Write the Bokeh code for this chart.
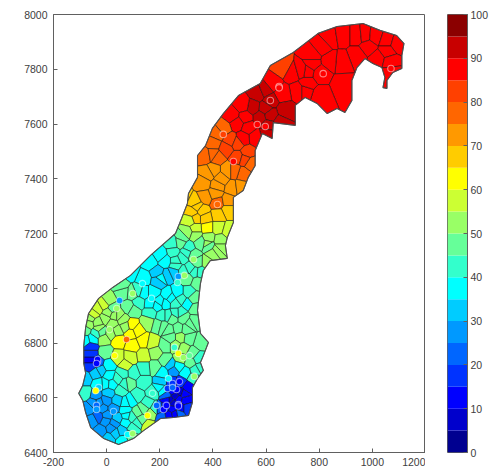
import numpy as np
from bokeh.plotting import figure
from bokeh.layouts import row
from bokeh.models import ColumnDataSource, LinearColorMapper, FixedTicker, Range1d
from bokeh.embed import file_html
from bokeh.resources import INLINE

x_ticks = [-200, 0, 200, 400, 600, 800, 1000, 1200]
y_ticks = [6400, 6600, 6800, 7000, 7200, 7400, 7600, 7800, 8000]
bar_ticks = [0, 10, 20, 30, 40, 50, 60, 70, 80, 90, 100]
palette = ["#000090", "#0000cc", "#0000ff", "#0033ff", "#0066ff", "#0099ff", "#00ccff", "#00ffff", "#33ffcc", "#66ff99",
           "#99ff66", "#ccff33", "#ffff00", "#ffcc00", "#ff9900", "#ff6600", "#ff4000", "#ff0000", "#c80000", "#8b0000"]

outline_x = [45, -11, -60, -79, -90, -105, -90, -79, -86, -86, -79, -68, -30, 23, 90, 165, 259, 282, 304, 308, 342, 342, 372, 398, 439, 496, 578, 616, 702, 796, 867, 965, 1029, 1092, 1119, 1111, 1111, 1077, 1055, 1055, 1040, 1047, 1036, 1002, 972, 942, 923, 923, 897, 867, 830, 792, 747, 710, 710, 627, 623, 586, 559, 559, 533, 514, 477, 477, 454, 447, 454, 390, 364, 353, 342, 353, 383, 364, 353, 364, 342, 323, 323, 308, 252, 203, 139, 101]
outline_y = [6429, 6451, 6491, 6546, 6590, 6616, 6645, 6689, 6725, 6791, 6857, 6908, 6963, 7003, 7047, 7120, 7200, 7255, 7310, 7346, 7405, 7485, 7521, 7584, 7638, 7704, 7748, 7814, 7861, 7931, 7956, 7967, 7942, 7923, 7894, 7850, 7803, 7788, 7759, 7730, 7733, 7770, 7806, 7821, 7839, 7806, 7759, 7686, 7642, 7657, 7638, 7675, 7697, 7668, 7595, 7605, 7547, 7565, 7503, 7448, 7405, 7357, 7332, 7240, 7185, 7156, 7109, 7101, 7065, 7017, 6919, 6835, 6802, 6754, 6729, 6700, 6670, 6637, 6583, 6535, 6528, 6524, 6480, 6451]

north_x = [841, 890, 942, 972, 1010, 1055, 1092, 1055, 1021, 1066, 1070, 984, 942, 886, 841, 811, 773, 803, 890, 803, 755, 747, 664, 627, 698, 736, 721, 755, 773, 661, 571, 597, 616, 552, 672, 597, 578, 616, 653, 608, 604, 511, 473, 522, 492, 533, 559, 514]
north_y = [7912, 7920, 7920, 7923, 7920, 7905, 7894, 7865, 7839, 7828, 7788, 7883, 7850, 7828, 7832, 7883, 7850, 7784, 7741, 7704, 7792, 7722, 7803, 7748, 7784, 7795, 7722, 7748, 7821, 7711, 7711, 7722, 7686, 7660, 7649, 7657, 7624, 7631, 7605, 7595, 7565, 7668, 7631, 7624, 7602, 7587, 7551, 7547]
north_val = [87, 87, 87, 87, 87, 87, 87, 87, 87, 87, 87, 87, 87, 87, 87, 87, 87, 87, 87, 87, 87, 87, 82, 87, 87, 87, 87, 87, 87, 87, 92, 92, 92, 92, 92, 92, 92, 92, 92, 92, 92, 87, 87, 87, 87, 87, 87, 87]

mid_x = [439, 466, 417, 492, 529, 492, 372, 402, 417, 454, 402, 514, 541, 383, 364, 417, 473, 503, 285, 334, 323, 360, 417, 458, 372, 409, 458, 420, 372, 334, 315, 379, 420, 458, 334, 304, 285, 334, 383, 428, 383, 428, 248, 308]
mid_y = [7584, 7540, 7565, 7529, 7496, 7478, 7485, 7529, 7478, 7430, 7430, 7419, 7456, 7419, 7383, 7375, 7364, 7368, 7339, 7313, 7277, 7284, 7313, 7320, 7332, 7346, 7284, 7266, 7255, 7255, 7248, 7222, 7222, 7211, 7218, 7204, 7185, 7193, 7182, 7174, 7156, 7149, 7163, 7149]
mid_val = [78, 82, 78, 82, 82, 82, 78, 78, 78, 73, 73, 78, 78, 73, 73, 73, 73, 73, 68, 68, 68, 68, 78, 73, 73, 73, 68, 68, 68, 68, 57, 62, 57, 57, 57, 52, 47, 52, 52, 52, 47, 52, 42, 42]

central_x = [278, 379, 417, 353, 327, 379, 285, 252, 203, 165, 259, 315, 353, 191, 229, 252, 203, 139, 120, 90, 304, 342, 308, 267, 229, 176, 139, 221, 165, 120, 304, 98, 60, 327, 334, 83, 53]
central_y = [7167, 7163, 7138, 7167, 7120, 7094, 7112, 7131, 7120, 7094, 7083, 7072, 7058, 7058, 7047, 7058, 7036, 7036, 6990, 7058, 7036, 7021, 6984, 6984, 6974, 6984, 6984, 6944, 6944, 6948, 6944, 6981, 6984, 6963, 6926, 6930, 7010]
central_val = [47, 52, 52, 47, 47, 52, 42, 42, 38, 37, 42, 42, 42, 32, 32, 32, 37, 37, 42, 37, 47, 47, 42, 37, 37, 37, 37, 37, 37, 42, 37, 47, 47, 47, 47, 47, 47]

west_x = [8, -34, 23, -60, -4, 45, 101, 165, 191, -79, -30, 23, 154, 195, 90, 45, 98, 139, 116, 173, -11, -53, -79, -4, -60, 41, 90, 71, 139, 184, 184, 139, 8, -23, -60, -60, -60, -34, 95]
west_y = [6955, 6926, 6926, 6890, 6890, 6900, 6919, 6911, 6937, 6846, 6853, 6871, 6875, 6864, 6835, 6809, 6791, 6809, 6846, 6802, 6816, 6816, 6809, 6765, 6784, 6747, 6747, 6718, 6754, 6765, 6711, 6707, 6718, 6700, 6736, 6762, 6718, 6729, 6865]
west_val = [52, 57, 47, 52, 52, 52, 47, 42, 37, 47, 52, 52, 52, 47, 62, 62, 62, 62, 62, 57, 52, 37, 37, 47, 17, 57, 57, 57, 57, 52, 47, 42, 37, 32, 12, 17, 17, 22, 62]

east_x = [259, 210, 248, 278, 315, 270, 353, 308, 323, 345, 278, 233, 221, 259, 289, 278, 221, 315, 353, 210, 252, 297, 327, 334, 203, 214, 248, 278, 304, 248, 278, 240, 270, 297, 221, 195, 248, 278, 233, 304, 270]
east_y = [6944, 6900, 6890, 6911, 6871, 6853, 6802, 6816, 6762, 6743, 6820, 6846, 6791, 6791, 6780, 6743, 6736, 6729, 6711, 6692, 6700, 6692, 6674, 6700, 6656, 6626, 6656, 6656, 6637, 6626, 6619, 6590, 6597, 6590, 6564, 6561, 6561, 6564, 6535, 6564, 6542]
east_val = [42, 42, 47, 42, 47, 47, 47, 47, 47, 42, 52, 47, 47, 52, 52, 52, 47, 47, 42, 37, 27, 37, 42, 42, 32, 37, 17, 17, 12, 12, 7, 7, 12, 12, 17, 22, 12, 12, 12, 17, 22]

south_x = [173, 139, 83, 101, 41, -4, -79, -79, -41, 8, 53, 71, 116, 154, 184, 165, 154, 116, 116, 90, 60, 8, 34, -23, -53, -4, 41, 71, -68, -15, 26, 71]
south_y = [6619, 6656, 6652, 6692, 6670, 6652, 6670, 6616, 6608, 6616, 6626, 6583, 6608, 6579, 6561, 6542, 6499, 6546, 6510, 6462, 6444, 6451, 6473, 6480, 6517, 6517, 6524, 6510, 6561, 6561, 6561, 6553]
south_val = [42, 42, 47, 42, 42, 37, 32, 42, 27, 32, 42, 37, 42, 42, 42, 52, 57, 47, 42, 47, 37, 32, 32, 27, 27, 27, 32, 37, 27, 27, 27, 37]

fine_x = [-10, -50, -65, -35, -20, 5, 30, 60, 70, 40, 15, -40, -40, 10, 60, 20, 70, -30, -30, 0, 40, 90, -50, -30, 20, 0, 30, 55, 75, 95, 100, 130, 140, 270, 240, 200, 225, 260, 290, 250, 230, 260, 210, 300, 340, 400, 260, 220, 330, 290, 195, 400, 450, 520, 480, 430, 340, 240, 280, 200, 260, 230, 290, 330, 210, 240, 300]
fine_y = [6940, 6905, 6870, 6875, 6840, 6910, 6900, 6885, 6860, 6845, 6835, 6835, 6690, 6680, 6690, 6650, 6650, 6650, 6580, 6590, 6590, 6590, 6580, 6530, 6490, 6535, 6505, 6480, 6535, 6530, 6490, 6520, 6560, 6715, 6720, 6640, 6610, 6605, 6615, 6580, 6590, 6540, 6530, 7130, 7095, 7125, 7100, 7100, 7060, 7060, 7025, 7490, 7510, 7470, 7430, 7400, 7300, 6965, 6960, 6950, 6910, 6900, 6890, 6880, 6860, 6820, 6850]
fine_val = [57, 57, 52, 52, 47, 52, 52, 52, 52, 52, 52, 42, 32, 37, 42, 37, 42, 37, 27, 27, 32, 37, 27, 22, 27, 27, 27, 32, 37, 42, 42, 47, 47, 37, 32, 37, 22, 7, 12, 7, 12, 12, 22, 42, 47, 52, 42, 38, 42, 42, 32, 78, 82, 82, 78, 73, 68, 37, 42, 37, 42, 42, 47, 47, 47, 47, 47]

station_x = [649, 649, 616, 815, 1070, 567, 597, 439, 477, 417, 327, 270, 267, 293, 135, 98, 169, 49, 38, 11, 75, 30, 255, 270, 289, 312, -34, -34, -38, -30, -41, -38, -38, 26, 173, 154, 188, 214, 225, 270, 270, 330, 233, 248, 274, 229, 263, 248, 79, 98]
station_y = [7737, 7732, 7686, 7784, 7803, 7598, 7591, 7562, 7463, 7306, 7105, 7043, 7021, 7047, 7017, 6981, 6963, 6955, 6926, 6849, 6813, 6754, 6784, 6762, 6747, 6754, 6732, 6740, 6725, 6637, 6626, 6572, 6557, 6550, 6616, 6535, 6572, 6557, 6572, 6575, 6570, 6678, 6670, 6652, 6659, 6634, 6630, 6637, 6466, 6469]
station_val = [87, 87, 92, 87, 87, 87, 87, 82, 87, 78, 52, 27, 42, 52, 37, 52, 37, 27, 52, 52, 77, 62, 42, 62, 52, 47, 12, 12, 12, 32, 62, 20, 27, 30, 42, 62, 20, 15, 15, 12, 12, 52, 37, 17, 12, 17, 12, 22, 35, 50]

seed_x = np.array(north_x + mid_x + central_x + west_x + east_x + south_x + fine_x, float)
seed_y = np.array(north_y + mid_y + central_y + west_y + east_y + south_y + fine_y, float)
seed_val = north_val + mid_val + central_val + west_val + east_val + south_val + fine_val


def clip_pieces(poly, mx, my, nx, ny):
    """Half-plane clip of a simple polygon, returning separate pieces with no bridges."""
    d = (poly[:, 0] - mx) * nx + (poly[:, 1] - my) * ny
    if np.all(d <= 0):
        return [poly]
    if np.all(d >= 0):
        return []
    n = len(poly)
    start = next(i for i in range(n) if d[i] > 0)
    chains, cur = [], None
    for s in range(n):
        i = (start + s) % n
        j = (i + 1) % n
        if cur is not None and d[i] <= 0:
            cur.append(poly[i])
        if (d[i] <= 0) != (d[j] <= 0):
            t = d[i] / (d[i] - d[j])
            pt = poly[i] + t * (poly[j] - poly[i])
            if d[j] <= 0:
                cur = [pt]
            else:
                cur.append(pt)
                chains.append(cur)
                cur = None
    dirx, diry = -ny, nx
    ends = []
    for c, ch in enumerate(chains):
        ends.append((ch[0][0] * dirx + ch[0][1] * diry, c, "in"))
        ends.append((ch[-1][0] * dirx + ch[-1][1] * diry, c, "out"))
    ends.sort(key=lambda e: e[0])
    nxt = {}
    for a, b in zip(ends[0::2], ends[1::2]):
        if a[2] == "out":
            nxt[a[1]] = b[1]
        else:
            nxt[b[1]] = a[1]
    pieces, seen = [], set()
    for c in range(len(chains)):
        if c in seen:
            continue
        pts, k = [], c
        while k not in seen:
            seen.add(k)
            pts.extend(chains[k])
            k = nxt.get(k, c)
        if len(pts) >= 3:
            pieces.append(np.array(pts))
    return pieces


base = np.column_stack([outline_x, outline_y]).astype(float)
cell_x, cell_y, cell_v = [], [], []
for i in range(len(seed_x)):
    pieces = [base]
    order = np.argsort((seed_x - seed_x[i]) ** 2 + (seed_y - seed_y[i]) ** 2)
    for k in order[1:]:
        mx, my = (seed_x[i] + seed_x[k]) / 2, (seed_y[i] + seed_y[k]) / 2
        nx, ny = seed_x[k] - seed_x[i], seed_y[k] - seed_y[i]
        if nx == 0 and ny == 0:
            continue
        new = []
        for pc in pieces:
            new.extend(clip_pieces(pc, mx, my, nx, ny))
        pieces = new
        if not pieces:
            break
    for pc in pieces:
        cell_x.append(pc[:, 0].tolist())
        cell_y.append(pc[:, 1].tolist())
        cell_v.append(seed_val[i])

mapper = LinearColorMapper(palette=palette, low=0, high=100)
GREY = "#606060"
TXT = "#404040"


def style_axis(ax, fs="10.5px"):
    ax.axis_line_color = GREY
    ax.major_tick_line_color = GREY
    ax.major_tick_in = 4
    ax.major_tick_out = 0
    ax.minor_tick_line_color = None
    ax.major_label_text_font = "Liberation Sans"
    ax.major_label_text_font_size = fs
    ax.major_label_text_color = TXT


p = figure(frame_width=372, frame_height=438, x_range=Range1d(-200, 1200), y_range=Range1d(6400, 8000),
           toolbar_location=None, output_backend="svg",
           min_border_left=53, min_border_top=14, min_border_bottom=16, min_border_right=0)
p.background_fill_color = "white"
p.border_fill_color = "white"
p.grid.visible = False
p.outline_line_color = GREY
p.xaxis.ticker = FixedTicker(ticks=x_ticks)
p.yaxis.ticker = FixedTicker(ticks=y_ticks)
p.xaxis.major_label_overrides = {v: str(v) for v in x_ticks}
p.xaxis.major_label_standoff = 5
p.yaxis.major_label_standoff = 6
style_axis(p.xaxis[0])
style_axis(p.yaxis[0])

p.patches("xs", "ys", source=ColumnDataSource(dict(xs=cell_x, ys=cell_y, v=cell_v)),
          fill_color={"field": "v", "transform": mapper}, line_color="#101010", line_width=0.7, line_alpha=0.75)
p.patch(outline_x + outline_x[:1], outline_y + outline_y[:1], fill_color=None, line_color="#505050", line_width=1.1)
p.scatter("x", "y", source=ColumnDataSource(dict(x=station_x, y=station_y, v=station_val)), size=6.5,
          fill_color={"field": "v", "transform": mapper}, line_color="white", line_width=1.1, line_alpha=0.5)

bands_low = [i * 5 for i in range(20)]
bands_high = [b + 5 for b in bands_low]
cb = figure(frame_width=20, frame_height=438, x_range=Range1d(0, 1), y_range=Range1d(0, 100),
            toolbar_location=None, output_backend="svg",
            min_border_left=22, min_border_top=14, min_border_bottom=16, min_border_right=0,
            y_axis_location="right")
cb.border_fill_color = "white"
cb.grid.visible = False
cb.xaxis.visible = False
cb.outline_line_color = GREY
cb.yaxis.ticker = FixedTicker(ticks=bar_ticks)
cb.yaxis.major_label_standoff = 3
style_axis(cb.yaxis[0])
cb.quad(left=0, right=1, bottom=bands_low, top=bands_high, fill_color=palette, line_color=None)

layout = row(p, cb, spacing=0)
open("out.html", "w").write(file_html(layout, INLINE))
